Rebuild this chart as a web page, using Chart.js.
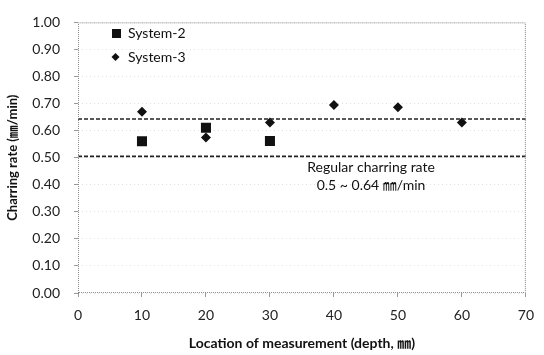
<!DOCTYPE html>
<html><head><meta charset="utf-8">
<script src="https://cdn.jsdelivr.net/npm/chart.js@4/dist/chart.umd.min.js"></script>
<style>html,body{margin:0;padding:0;background:#fff}</style>
</head><body>
<canvas id="c" width="544" height="355" style="width:544px;height:355px"></canvas>
<script>
// ---- data ----
const seriesNames = ['System-2', 'System-3'];
const system2Depths = [10, 20, 30];
const system2Rates = [0.561, 0.611, 0.562];
const system3Depths = [10, 20, 30, 40, 50, 60];
const system3Rates = [0.67, 0.575, 0.63, 0.695, 0.686, 0.63];
const regularBand = [0.505, 0.643];
const xLimits = [0, 70];
const yLimits = [0, 1.0];
const xTickStep = 10;
const yTickStep = 0.1;
const noteLines = ['Regular charring rate', '0.5 ~ 0.64 \u339C/min'];
const notePos = [45.8, 0.462];
const xTitle = 'Location of measurement (depth, \u339C)';
const yTitle = 'Charring rate (\u339C/min)';

const FONT = "Lato, 'Noto Sans CJK JP', sans-serif";

const toPts = (xs, ys) => xs.map((x, i) => ({x: x, y: ys[i]}));

const overlay = {
  id: 'overlay',
  afterDatasetsDraw(chart) {
    const ctx = chart.ctx, a = chart.chartArea;
    const xs = chart.scales.x, ys = chart.scales.y;
    ctx.save();
    // frame (dotted box)
    ctx.strokeStyle = '#8a8a8a';
    ctx.lineWidth = 1;
    ctx.setLineDash([1, 1]);
    ctx.beginPath();
    ctx.moveTo(a.left + 0.5, a.bottom);
    ctx.lineTo(a.left + 0.5, a.top + 0.5);
    ctx.lineTo(a.right - 0.5, a.top + 0.5);
    ctx.lineTo(a.right - 0.5, a.bottom - 0.5);
    ctx.lineTo(a.left, a.bottom - 0.5);
    ctx.stroke();
    ctx.setLineDash([]);
    // legend
    ctx.fillStyle = '#111';
    ctx.font = "14px " + FONT;
    ctx.textBaseline = 'middle';
    ctx.textAlign = 'left';
    const lx = 116.5, ly = [33.5, 57];
    ctx.fillRect(lx - 4.5, ly[0] - 4.5, 9, 9);
    ctx.fillText(seriesNames[0], lx + 11.5, ly[0]);
    ctx.beginPath();
    ctx.moveTo(lx - 1, ly[1] - 4); ctx.lineTo(lx + 3, ly[1]);
    ctx.lineTo(lx - 1, ly[1] + 4); ctx.lineTo(lx - 5, ly[1]);
    ctx.closePath(); ctx.fill();
    ctx.fillText(seriesNames[1], lx + 11.5, ly[1]);
    // note
    ctx.textAlign = 'center';
    const nx = xs.getPixelForValue(notePos[0]);
    const ny = ys.getPixelForValue(notePos[1]);
    ctx.fillText(noteLines[0], nx, ny);
    ctx.fillText(noteLines[1], nx, ny + 18);
    ctx.restore();
  }
};

const yTickVals = [];
for (let v = yLimits[0]; v <= yLimits[1] + 1e-9; v += yTickStep) yTickVals.push(+v.toFixed(2));

new Chart(document.getElementById('c'), {
  type: 'scatter',
  data: {
    datasets: [
      {label: 'low', type: 'line', data: toPts(xLimits, [regularBand[0], regularBand[0]]),
       borderColor: '#222', borderWidth: 1.7, borderDash: [4, 2], pointRadius: 0, fill: false},
      {label: 'high', type: 'line', data: toPts(xLimits, [regularBand[1], regularBand[1]]),
       borderColor: '#222', borderWidth: 1.7, borderDash: [4, 2], pointRadius: 0, fill: false},
      {label: seriesNames[0], data: toPts(system2Depths, system2Rates),
       pointStyle: 'rect', pointRadius: 7.1, backgroundColor: '#111', borderColor: '#111', borderWidth: 0},
      {label: seriesNames[1], data: toPts(system3Depths, system3Rates),
       pointStyle: 'rectRot', pointRadius: 5, backgroundColor: '#111', borderColor: '#111', borderWidth: 0}
    ]
  },
  options: {
    responsive: false,
    animation: false,
    layout: {padding: {left: 0, right: 17, top: 13, bottom: 3}},
    plugins: {legend: {display: false}, tooltip: {enabled: false}},
    scales: {
      x: {
        type: 'linear', min: xLimits[0], max: xLimits[1],
        afterFit(s) { s.height = 59; },
        ticks: {stepSize: xTickStep, color: '#222', font: {family: FONT, size: 14}, padding: 10},
        grid: {display: true, drawOnChartArea: false, tickLength: 4, color: '#999'},
        border: {display: false},
        title: {display: true, text: xTitle, color: '#111', font: {family: FONT, size: 14, weight: 'bold'}, padding: {top: 4, bottom: 0}}
      },
      y: {
        type: 'linear', min: yLimits[0], max: yLimits[1],
        afterFit(s) { s.width = 78; },
        afterBuildTicks(s) { s.ticks = yTickVals.map(v => ({value: v})); },
        ticks: {color: '#222', font: {family: FONT, size: 14}, padding: 14, callback: v => (+v).toFixed(2)},
        grid: {color: 'rgba(0,0,0,0.12)', tickLength: 4, tickColor: '#999', drawTicks: true, tickBorderDash: []},
        border: {display: false, dash: [1, 3]},
        title: {display: true, text: yTitle, color: '#111', font: {family: FONT, size: 13, weight: 'bold'}, padding: {top: 5, bottom: 0}}
      }
    }
  },
  plugins: [overlay]
});
</script>
</body></html>
